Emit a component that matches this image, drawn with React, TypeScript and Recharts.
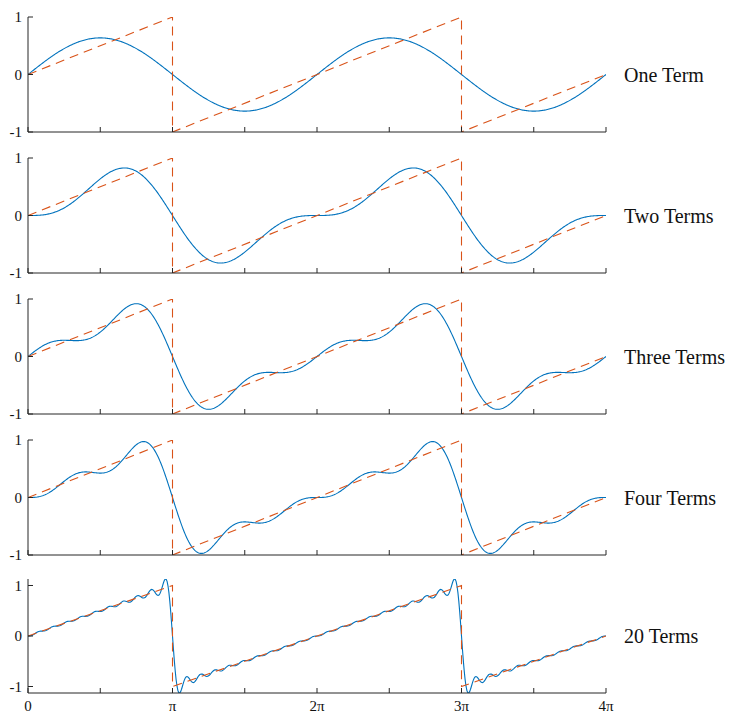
import React from 'react';
import { LineChart, Line, XAxis, YAxis } from 'recharts';

const PI = Math.PI;

// captions on the right and how many sine terms each panel sums
const panelLabels = ['One Term', 'Two Terms', 'Three Terms', 'Four Terms', '20 Terms'];
const termCounts = [1, 2, 3, 4, 20];

// sine amplitudes of the sawtooth series, n = 1..20
const sineAmps = [
  0.6366, -0.3183, 0.2122, -0.1592, 0.1273, -0.1061, 0.0909, -0.0796, 0.0707, -0.0637,
  0.0579, -0.0531, 0.049, -0.0455, 0.0424, -0.0398, 0.0374, -0.0354, 0.0335, -0.0318,
];

// sawtooth corners (x in multiples of pi)
const sawX = [0, 1, 1, 3, 3, 4];
const sawY = [0, 1, -1, 1, -1, 0];

// x ticks in multiples of pi, labels only on whole ones
const xTickVals = [0, 0.5, 1, 1.5, 2, 2.5, 3, 3.5, 4];
const xTickLabels = ['0', '', 'π', '', '2π', '', '3π', '', '4π'];
const yTickVals = [-1, 0, 1];

const BLUE = '#0072BD';
const ORANGE = '#D95319';
const AXIS = '#262626';
const FONT = "'Liberation Serif', 'Times New Roman', serif";

const SAMPLES = 640;
const PAD = 14; // room above the plot so the top tick label is not clipped

function partialSum(xPi: number, terms: number) {
  let s = 0;
  for (let k = 1; k <= terms; k++) s += sineAmps[k - 1] * Math.sin(k * xPi * PI);
  return s;
}

const sawData = sawX.map((x, i) => ({ x, y: sawY[i] }));

function Panel({ index }: { index: number }) {
  const last = index === panelLabels.length - 1;
  const plotTop = last ? 579 : 17 + 141 * index;
  const plotH = last ? 114 : 115;

  const series = Array.from({ length: SAMPLES + 1 }, (_, i) => {
    const x = (4 * i) / SAMPLES;
    return { x, y: partialSum(x, termCounts[index]) };
  });
  let lo = -1;
  let hi = 1;
  if (last) {
    lo = Math.min(...series.map(d => d.y));
    hi = Math.max(...series.map(d => d.y));
  }

  return (
    <div style={{ position: 'absolute', left: 0, top: plotTop - PAD }}>
      <LineChart
        width={732}
        height={PAD + plotH + 21}
        margin={{ top: PAD, right: 126, bottom: 0, left: 0 }}
        style={{ fontFamily: FONT }}
      >
        <XAxis
          dataKey="x"
          type="number"
          domain={[0, 4]}
          ticks={xTickVals}
          interval={0}
          tickFormatter={(v: number) => (last ? xTickLabels[xTickVals.indexOf(v)] ?? '' : '')}
          height={21}
          tickSize={-5}
          tickMargin={12}
          axisLine={{ stroke: AXIS, strokeWidth: 1 }}
          tickLine={{ stroke: AXIS, strokeWidth: 1 }}
          tick={{ fill: '#111', fontSize: 15, fontFamily: FONT }}
          allowDataOverflow
        />
        <YAxis
          type="number"
          domain={[lo, hi]}
          ticks={yTickVals}
          interval={0}
          width={28}
          tickSize={-5}
          tickMargin={11}
          tickFormatter={(v: number) => (v < 0 ? '-' + Math.abs(v) : String(v))}
          axisLine={{ stroke: AXIS, strokeWidth: 1 }}
          tickLine={{ stroke: AXIS, strokeWidth: 1 }}
          tick={{ fill: '#111', fontSize: 15, fontFamily: FONT }}
          allowDataOverflow
        />
        <Line
          data={series}
          dataKey="y"
          type="linear"
          stroke={BLUE}
          strokeWidth={1.1}
          dot={false}
          isAnimationActive={false}
        />
        <Line
          data={sawData}
          dataKey="y"
          type="linear"
          stroke={ORANGE}
          strokeWidth={1.1}
          strokeDasharray="9 6"
          dot={false}
          isAnimationActive={false}
        />
      </LineChart>
      <div
        style={{
          position: 'absolute',
          left: 624,
          top: PAD + (hi / (hi - lo)) * plotH,
          transform: 'translateY(-50%)',
          fontFamily: FONT,
          fontSize: 20,
          lineHeight: 1,
          color: '#111',
          whiteSpace: 'nowrap',
        }}
      >
        {panelLabels[index]}
      </div>
    </div>
  );
}

export default function App() {
  return (
    <div style={{ position: 'absolute', left: 0, top: 0, width: 732, height: 713, background: '#fff' }}>
      {panelLabels.map((_, i) => (
        <Panel key={i} index={i} />
      ))}
    </div>
  );
}
